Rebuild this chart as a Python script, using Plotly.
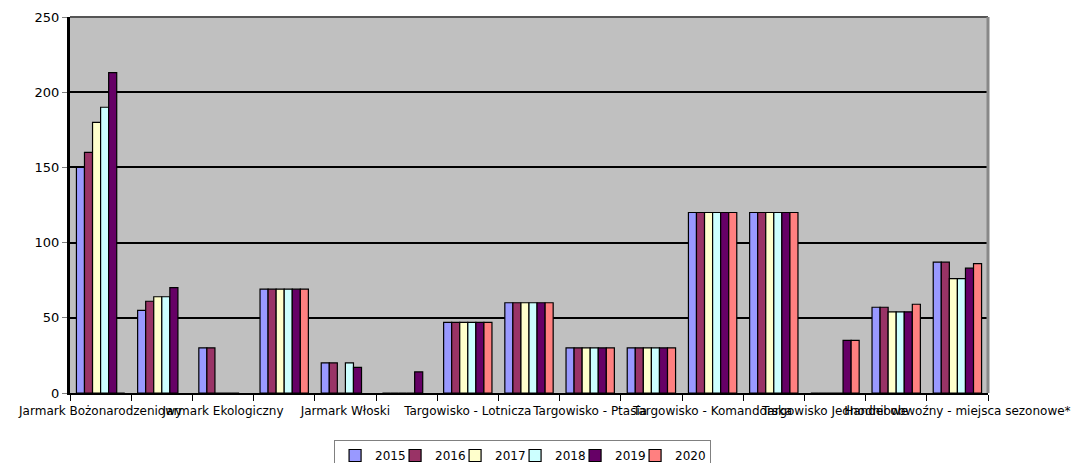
import plotly.graph_objects as go

categories = [
    "Jarmark Bożonarodzeniowy", "Jarmark Wielkanocny", "Jarmark Ekologiczny",
    "Jarmark Dominikański", "Jarmark Włoski", "Jarmark Staroci",
    "Targowisko - Lotnicza", "Targowisko - Nowy Dwór", "Targowisko - Ptasia",
    "Targowisko - Kozanów", "Targowisko - Komandorska", "Targowisko - Krzyki",
    "Targowisko Jednodniowe", "Handel obwoźny", "Handel obwoźny - miejsca sezonowe*",
]
years = ["2015", "2016", "2017", "2018", "2019", "2020"]
v2015 = [150, 55, 30, 69, 20, 0, 47, 60, 30, 30, 120, 120, 0, 57, 87]
v2016 = [160, 61, 30, 69, 20, 0, 47, 60, 30, 30, 120, 120, 0, 57, 87]
v2017 = [180, 64, 0, 69, 0, 0, 47, 60, 30, 30, 120, 120, 0, 54, 76]
v2018 = [190, 64, 0, 69, 20, 0, 47, 60, 30, 30, 120, 120, 0, 54, 76]
v2019 = [213, 70, 0, 69, 17, 14, 47, 60, 30, 30, 120, 120, 35, 54, 83]
v2020 = [0, None, None, 69, None, None, 47, 60, 30, 30, 120, 120, 35, 59, 86]
series = [v2015, v2016, v2017, v2018, v2019, v2020]
colors = ["#9999FF", "#993366", "#FFFFCC", "#CCFFFF", "#660066", "#FF8080"]

y_ticks = [0, 50, 100, 150, 200, 250]
shown_idx = list(range(0, len(categories), 2))

xpos = list(range(len(categories)))
fig = go.Figure()
for i, (yr, vals, col) in enumerate(zip(years, series, colors)):
    last = i == len(years) - 1
    fig.add_trace(go.Bar(
        x=xpos, y=vals, name=yr,
        marker=dict(color=col, line=dict(color="black", width=1.2)),
        legendwidth=30 if last else 15,
    ))

font = "DejaVu Sans, Verdana, sans-serif"
fig.update_layout(
    width=1072, height=455,
    margin=dict(l=62, r=92, t=9, b=70, autoexpand=False),
    paper_bgcolor="white",
    plot_bgcolor="#C0C0C0",
    barmode="group", bargap=0.21, bargroupgap=0,
    font=dict(family=font, size=12, color="black"),
    showlegend=True,
    legend=dict(
        orientation="h", x=0.493, xanchor="center", y=-0.125, yanchor="top",
        bgcolor="white", bordercolor="#808080", borderwidth=1,
        font=dict(family=font, size=12), itemwidth=30,
        entrywidthmode="pixels",
        tracegroupgap=0,
    ),
    xaxis=dict(
        range=[-0.5, len(categories) - 0.5],
        automargin=False,
        tickmode="array",
        tickvals=shown_idx,
        ticktext=[categories[i] for i in shown_idx],
        tickangle=0,
        ticks="",
        ticklabelstandoff=6,
        ticklabeloverflow="allow",
        showgrid=False, zeroline=False,
        showline=True, linecolor="black", linewidth=2,
        tickfont=dict(family=font, size=12),
        minor=dict(
            tickmode="array",
            tickvals=[i - 0.5 for i in range(len(categories) + 1)],
            ticks="outside", ticklen=6, tickcolor="black", tickwidth=1,
            showgrid=False,
        ),
    ),
    yaxis=dict(
        range=[0, 250], tickvals=y_ticks,
        automargin=False,
        ticks="outside", ticklen=5, tickcolor="#808080",
        showgrid=True, gridcolor="black", gridwidth=2,
        zeroline=False,
        showline=True, linecolor="black", linewidth=3,
        tickfont=dict(family=font, size=13),
    ),
)
# plot area frame (top and right edges of the 3D wall)
fig.add_shape(type="line", xref="x domain", yref="y domain",
              x0=0, x1=1, y0=1, y1=1, line=dict(color="#555555", width=2))
fig.add_shape(type="line", xref="x domain", yref="y domain",
              x0=1, x1=1, y0=0, y1=1, line=dict(color="#888888", width=3))

fig.write_html("out.html")
